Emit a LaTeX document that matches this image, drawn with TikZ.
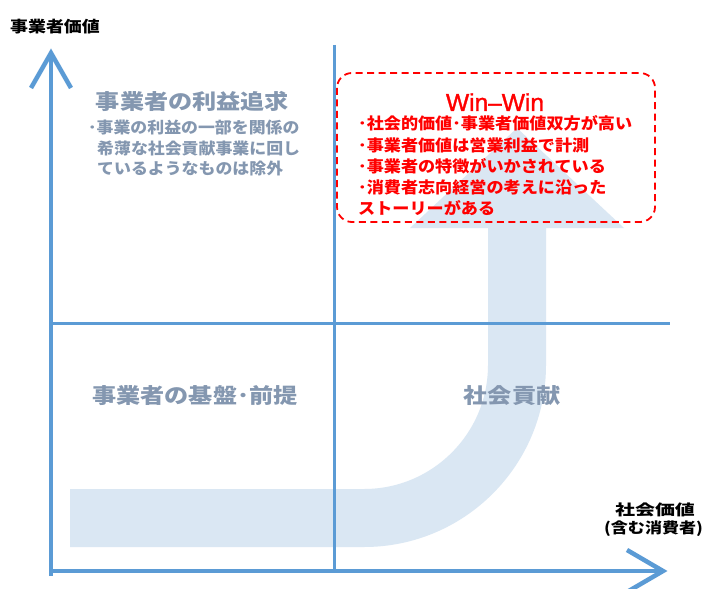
\documentclass[tikz,border=0pt]{standalone}
\usepackage{fontspec}
\newfontfamily\jpA{Noto Sans CJK JP}[FakeStretch=1.07]
\newfontfamily\jpB{Noto Sans CJK JP}[FakeStretch=1.15]
\newfontfamily\jpC{Noto Sans CJK JP}[FakeStretch=1.35]
\newfontfamily\latinfont{Liberation Sans}[FakeBold=1.3]
\definecolor{axisblue}{HTML}{5B9BD5}
\definecolor{bandblue}{HTML}{DAE7F3}
\definecolor{graytext}{HTML}{8497B0}
\definecolor{redtext}{HTML}{FF0000}
\tikzset{
  axisline/.style={draw=axisblue, line width=4.5pt, line join=miter},
  midline/.style={draw=axisblue, line width=3pt},
  bandshape/.style={fill=bandblue, draw=none},
  winbox/.style={draw=redtext, line width=1.8pt, dash pattern=on 7pt off 4.5pt, rounded corners=15pt},
  axislabel/.style={inner sep=0pt, anchor=base, text=black},
  graytitle/.style={inner sep=0pt, anchor=base, text=graytext, font=\jpB\bfseries\fontsize{21}{24}\selectfont},
  graybullet/.style={inner sep=0pt, anchor=base west, text=graytext, font=\jpA\bfseries\fontsize{15.8}{20}\selectfont},
  redbullet/.style={inner sep=0pt, anchor=base west, text=redtext, font=\jpA\bfseries\fontsize{16}{21}\selectfont},
}
\begin{document}
\begin{tikzpicture}[x=1pt,y=-1pt]
\clip (0,0) rectangle (708,588);
\fill[white] (0,0) rectangle (708,588);

% big light-blue bent arrow
\path[bandshape] (70,489) -- (364,489) arc[start angle=270, end angle=360, radius=124pt]
  -- (488,228) -- (410,228) -- (517,128) -- (624,228) -- (546,228) -- (546,365)
  arc[start angle=0, end angle=-90, radius=182pt] -- (70,547) -- cycle;

% axes coordinates
\coordinate (vbot) at (51,576);
\coordinate (vtop) at (51,53);
\coordinate (vl) at (31,88);
\coordinate (vr) at (71,88);
\coordinate (hleft) at (49,571);
\coordinate (hright) at (663,571);
\coordinate (hu) at (627,550);
\coordinate (hd) at (627,592);
\coordinate (mtop) at (334,45);
\coordinate (mbot) at (334,571);
\coordinate (mleft) at (51,323);
\coordinate (mright) at (670,323);

\draw[midline] (mtop) -- (mbot);
\draw[midline] (mleft) -- (mright);
\draw[axisline] (vbot) -- (vtop);
\draw[axisline] (vl) -- (vtop) -- (vr);
\draw[axisline] (hleft) -- (hright);
\draw[axisline] (hu) -- (hright) -- (hd);

% axis labels
\node[axislabel, font=\jpB\bfseries\fontsize{15.6}{18}\selectfont] (ylab) at (55,33) {事業者価値};
\node[axislabel, font=\jpC\bfseries\fontsize{14.8}{18}\selectfont] (xlab1) at (655,515.6) {社会価値};
\node[axislabel, font=\jpB\bfseries\fontsize{14.8}{18}\selectfont] (xlab2) at (653.5,533.6) {(含む消費者)};

% quadrant titles
\node[graytitle] (q1) at (192.5,110) {事業者の利益追求};
\node[graybullet] (q1a) at (88,134) {･事業の利益の一部を関係の};
\node[graybullet] (q1b) at (97,154) {希薄な社会貢献事業に回し};
\node[graybullet] (q1c) at (97,174) {ているようなものは除外};
\node[graytitle] (q3) at (195,403) {事業者の基盤･前提};
\node[graytitle] (q4) at (512,403) {社会貢献};

% win-win box
\draw[winbox] (337,73) rectangle (655,222);
\node[inner sep=0pt, anchor=base, text=redtext, font=\latinfont\fontsize{24.5}{28}\selectfont] (ww) at (495,111) {Win–Win};
\node[redbullet] (r1) at (358,130) {･社会的価値･事業者価値双方が高い};
\node[redbullet] (r2) at (358,151) {･事業者価値は営業利益で計測};
\node[redbullet] (r3) at (358,172) {･事業者の特徴がいかされている};
\node[redbullet] (r4) at (358,193) {･消費者志向経営の考えに沿った};
\node[redbullet] (r5) at (358,214) {ストーリーがある};
\end{tikzpicture}
\end{document}
